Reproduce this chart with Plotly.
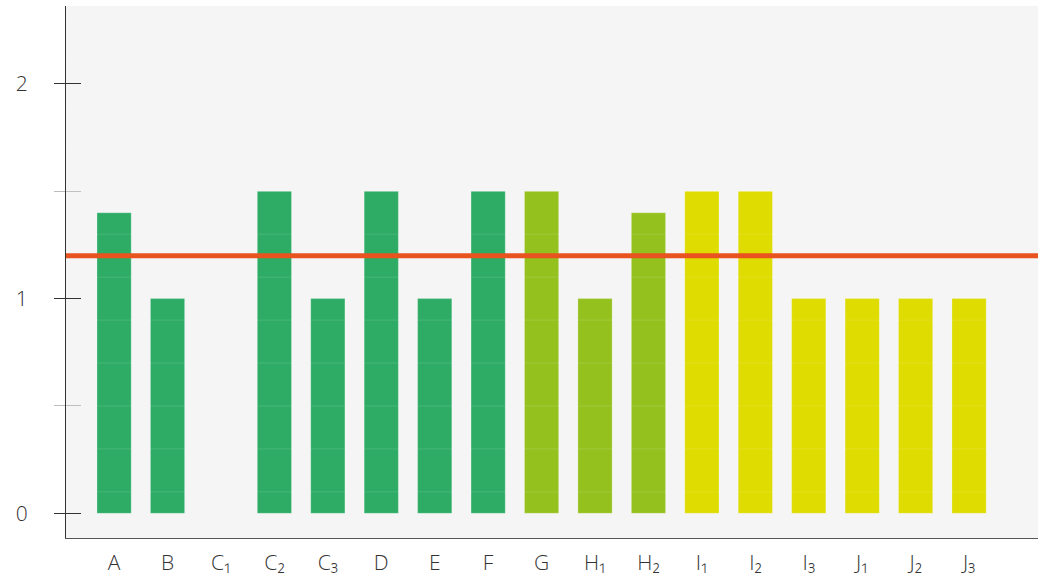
import numpy as np
import plotly.graph_objects as go

categories = ["A", "B", "C₁", "C₂", "C₃", "D", "E", "F", "G", "H₁", "H₂",
              "I₁", "I₂", "I₃", "J₁", "J₂", "J₃"]
values = [1.4, 1.0, 0, 1.5, 1.0, 1.5, 1.0, 1.5, 1.5, 1.0, 1.4,
          1.5, 1.5, 1.0, 1.0, 1.0, 1.0]
groups = ["g1"] * 8 + ["g2"] * 3 + ["g3"] * 6
threshold = 1.2
ytick_vals = [0, 1, 2]
ytick_text = ["0", "1", "2"]

palette = {"g1": "#2eac66", "g2": "#95c11f", "g3": "#dedc00"}
bar_colors = [palette[g] for g in groups]
line_widths = [1 if v > 0 else 0 for v in values]

fig = go.Figure()
fig.add_trace(go.Bar(
    x=categories, y=values,
    marker=dict(color=bar_colors, line=dict(color="rgba(255,255,255,0.25)", width=line_widths)),
    width=0.64, showlegend=False, hoverinfo="x+y",
))

# faint gridlines drawn over bars
shapes = []
for v in np.arange(0.1, 2.36, 0.2):
    shapes.append(dict(type="line", xref="paper", x0=0, x1=1, yref="y", y0=v, y1=v,
                       line=dict(color="rgba(255,255,255,0.12)", width=1), layer="above"))
# threshold line
shapes.append(dict(type="line", xref="paper", x0=0, x1=1, yref="y", y0=threshold, y1=threshold,
                   line=dict(color="#e9531f", width=5), layer="above"))

yr = [-0.115, 2.363]
font = dict(family="Open Sans, Noto Sans, sans-serif", size=21, color="#333333", weight=300)

fig.update_layout(
    width=1041, height=575,
    margin=dict(l=66, r=3, t=6, b=37),
    paper_bgcolor="white", plot_bgcolor="#f5f5f5",
    shapes=shapes,
    xaxis=dict(
        type="category", range=[-0.9, 17.29], automargin=False,
        showline=True, linecolor="#555555", linewidth=1,
        showgrid=False, ticks="", tickfont=font, ticklabelstandoff=6,
        zeroline=False, fixedrange=True,
    ),
    yaxis=dict(
        range=yr, tickmode="array", tickvals=ytick_vals, ticktext=ytick_text,
        automargin=False,
        ticks="outside", ticklen=11, tickcolor="#333333", tickwidth=1,
        minor=dict(tickmode="array", tickvals=[0.5, 1.5], ticks="outside",
                   ticklen=11, tickcolor="#bbbbbb", tickwidth=1, showgrid=False),
        showline=True, linecolor="#333333", linewidth=1,
        showgrid=False, zeroline=False, tickfont=font, ticklabelstandoff=22,
        fixedrange=True,
    ),
    yaxis2=dict(
        overlaying="y", side="left", range=yr, tickmode="array", tickvals=ytick_vals,
        automargin=False,
        ticks="inside", ticklen=15, tickcolor="#333333", tickwidth=1,
        minor=dict(tickmode="array", tickvals=[0.5, 1.5], ticks="inside",
                   ticklen=15, tickcolor="#bbbbbb", tickwidth=1, showgrid=False),
        showticklabels=False, showline=False, showgrid=False, zeroline=False,
        fixedrange=True,
    ),
)
fig.add_trace(go.Scatter(x=[categories[0]], y=[0], yaxis="y2", mode="markers",
                         marker=dict(opacity=0), showlegend=False, hoverinfo="skip"))

fig.write_html("out.html", config={"displayModeBar": False},
               post_script="document.body.style.margin='0';document.body.style.overflow='hidden';")
